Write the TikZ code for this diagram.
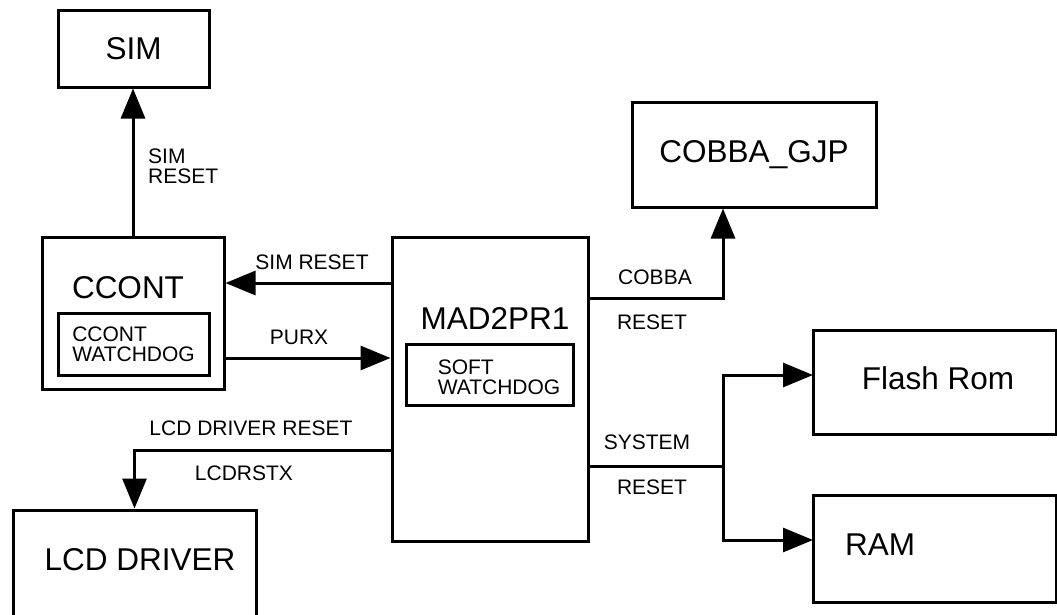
\documentclass[tikz,border=0pt]{standalone}
\usepackage{fontspec}
\setmainfont{Liberation Sans}
\usetikzlibrary{arrows.meta}
\begin{document}
\begin{tikzpicture}[x=1pt,y=-1pt,
  blk/.style={draw,line width=3pt,inner sep=0pt},
  big/.style={font=\fontsize{31.5}{34}\selectfont,inner sep=0pt},
  sml/.style={font=\fontsize{21}{20}\selectfont,inner sep=0pt,align=left},
  sig/.style={line width=3pt},
  arr/.style={sig,-{Triangle[length=30pt,width=24pt]}}]
% reset tree, pixel coordinates with y running downwards
\global\def\sigdraw{\draw[arr]}
\clip (0,0) rectangle (1057,614);
\node[blk,big,minimum width=151pt,minimum height=77pt] (sim) at (133.5,48.5) {SIM};
\node[blk,minimum width=182pt,minimum height=152pt] (ccont) at (133,313) {};
\node[big] (ccontlbl) at (128,288) {CCONT};
\node[blk,sml,minimum width=151pt,minimum height=62pt] (ccontwd) at (133.5,344) {CCONT\\WATCHDOG};
\node[blk,minimum width=196pt,minimum height=304pt] (mad) at (490,389) {};
\node[big] (madlbl) at (495,318) {MAD2PR1};
\node[blk,minimum width=167pt,minimum height=61pt] (softwd) at (489.5,374.5) {};
\node[sml] (softwdlbl) at (499,377) {SOFT\\WATCHDOG};
\node[blk,big,minimum width=244pt,minimum height=105pt] (cobba) at (754,154.5) {COBBA\_GJP};
\node[blk,minimum width=243pt,minimum height=104pt] (flash) at (934.5,382) {};
\node[big] (flashlbl) at (938,378) {Flash Rom};
\node[blk,minimum width=243pt,minimum height=107pt] (ram) at (934.5,548.5) {};
\node[big] (ramlbl) at (880,545) {RAM};
\node[blk,minimum width=243pt,minimum height=130pt] (lcd) at (134.5,575) {};
\node[big] (lcdlbl) at (140,560) {LCD DRIVER};
\coordinate (simrst) at (392,283);
\coordinate (purx) at (224,358);
\coordinate (lcdrst) at (392,450);
\coordinate (cobrst) at (588,298);
\coordinate (sysrst) at (588,466);
\coordinate (branch) at (723,466);
\coordinate (flashin) at (813,375);
\coordinate (ramin) at (813,540);
\sigdraw (ccont.north) -- (ccont.north |- sim.south);
\sigdraw (simrst) -- (simrst -| ccont.east);
\sigdraw (purx) -- (purx -| mad.west);
\sigdraw (lcdrst) -| (lcd.north);
\sigdraw (cobrst) -| (branch |- cobba.south);
\draw[sig] (sysrst) -- (branch);
\sigdraw (branch) |- (flashin);
\sigdraw (branch) |- (ramin);
\node[sml,anchor=west] (simrstv) at (148,166) {SIM\\RESET};
\node[sml] (simrsth) at (312,262) {SIM RESET};
\node[sml] (purxlbl) at (299,337) {PURX};
\node[sml] (lcdrstlbl) at (251,428) {LCD DRIVER RESET};
\node[sml] (lcdrstx) at (244,473) {LCDRSTX};
\node[sml] (cobbalbl) at (655,277) {COBBA};
\node[sml] (cobrstlbl) at (652,322) {RESET};
\node[sml] (syslbl) at (647,442) {SYSTEM};
\node[sml] (sysrstlbl) at (652,487) {RESET};
\end{tikzpicture}
\end{document}
